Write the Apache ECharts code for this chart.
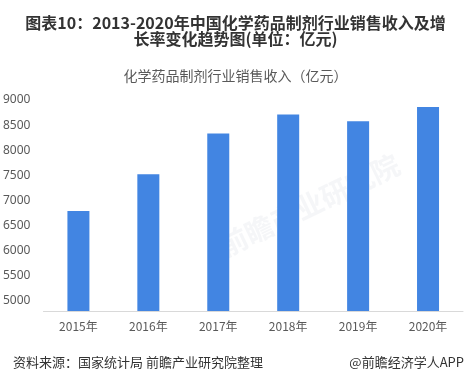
<!DOCTYPE html>
<html><head><meta charset="utf-8">
<script src="https://cdn.jsdelivr.net/npm/echarts@6/dist/echarts.min.js"></script>
<style>html,body{margin:0;padding:0;background:#fff}#c{width:471px;height:380px}</style>
</head><body><div id="c"></div>
<script>
const categories = ['2015年','2016年','2017年','2018年','2019年','2020年'];
const salesRevenue = [6790, 7520, 8335, 8710, 8575, 8860];
const tickLabels = [5000, 5500, 6000, 6500, 7000, 7500, 8000, 8500, 9000];

const chart = echarts.init(document.getElementById('c'), null, {renderer:'canvas'});
chart.setOption({
  animation:false,
  backgroundColor:'#fff',
  title:[
    {text:'图表10：2013-2020年中国化学药品制剂行业销售收入及增\n长率变化趋势图(单位：亿元)', left:'center', top:10,
     textStyle:{fontSize:16, fontWeight:'bold', color:'#333', lineHeight:16, fontFamily:'"Noto Sans CJK SC", sans-serif'}},
    {text:'化学药品制剂行业销售收入（亿元）', left:'center', top:64,
     textStyle:{fontSize:14, fontWeight:'normal', color:'#595959', fontFamily:'"Noto Sans CJK SC", sans-serif'}},
    {text:'资料来源：国家统计局 前瞻产业研究院整理', left:8, top:351,
     textStyle:{fontSize:13, fontWeight:'normal', color:'#333', fontFamily:'"Noto Sans CJK SC", sans-serif'}},
    {text:'@前瞻经济学人APP', right:2, top:351,
     textStyle:{fontSize:13, fontWeight:'normal', color:'#333', fontFamily:'"Noto Sans CJK SC", sans-serif'}}
  ],
  graphic:[
    {type:'text', left:215, top:150, rotation:Math.PI/7, silent:true, z:0,
     style:{text:'前瞻产业研究院', fontSize:28, fontWeight:'bold', fill:'rgba(200,205,215,0.18)', fontFamily:'"Noto Sans CJK SC", sans-serif'}}
  ],
  grid:{left:43, right:8, top:100, bottom:69, containLabel:false},
  xAxis:{type:'category', data:categories,
    axisLine:{lineStyle:{color:'#d9d9d9'}}, axisTick:{show:false},
    axisLabel:{color:'#595959', fontSize:12, margin:9, fontFamily:'"Noto Sans CJK SC", sans-serif'}},
  yAxis:{type:'value', min:4800, max:9000, interval:100,
    axisLine:{show:false}, axisTick:{show:false}, splitLine:{show:false},
    axisLabel:{interval:0, color:'#595959', fontSize:12, margin:13, fontFamily:'"Noto Sans", sans-serif',
      formatter:function(v){return tickLabels.indexOf(v)>=0 ? String(v) : '';}}},
  series:[{type:'bar', data:salesRevenue, barWidth:22, itemStyle:{color:'#4285E2'}, z:2}]
});
</script></body></html>
